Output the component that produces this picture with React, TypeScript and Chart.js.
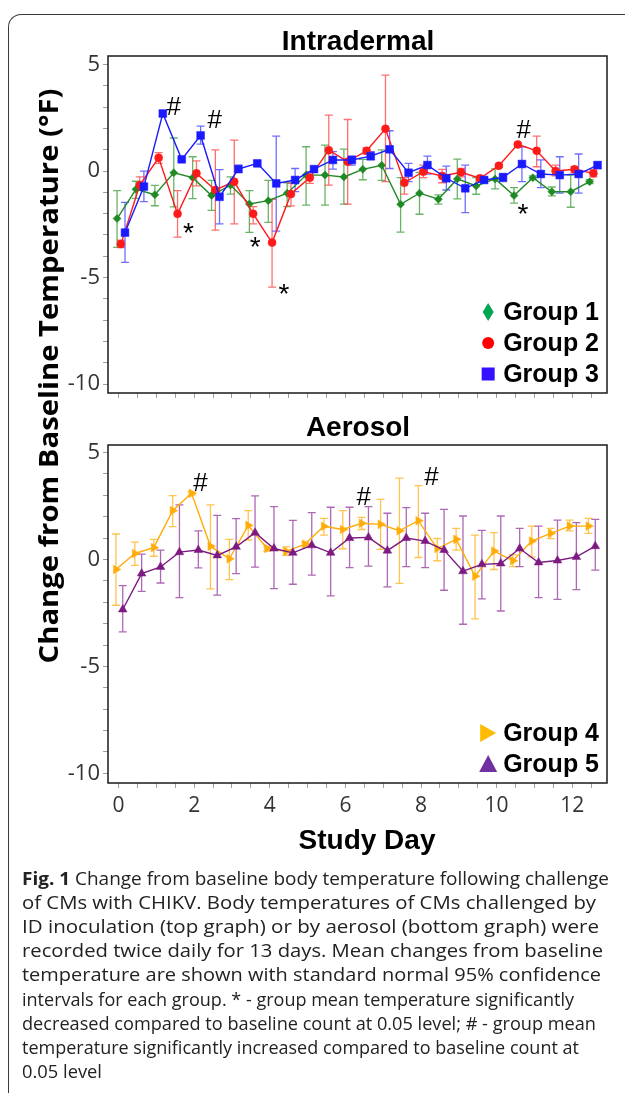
import React, { useEffect, useRef } from 'react';
import { Chart, registerables } from 'chart.js';

Chart.register(...registerables);

// ---------------- data ----------------
const studyDays = [0, 0.5, 1, 1.5, 2, 2.5, 3, 3.5, 4, 4.5, 5, 5.5, 6, 6.5, 7, 7.5, 8, 8.5, 9, 9.5, 10, 10.5, 11, 11.5, 12, 12.5];
const xLabelDays = [0, 2, 4, 6, 8, 10, 12];
const yTickValues = [-10, -9, -8, -7, -6, -5, -4, -3, -2, -1, 0, 1, 2, 3, 4, 5];
const yLabelValues = [-10, -5, 0, 5];

const group1Mean = [-2.23, -0.86, -1.11, -0.08, -0.31, -1.15, -0.66, -1.55, -1.39, -1.04, -0.19, -0.19, -0.28, 0.08, 0.27, -1.56, -1.04, -1.32, -0.37, -0.70, -0.37, -1.15, -0.31, -0.97, -0.97, -0.50];
const group1Upper = [-0.92, -0.48, -0.67, 1.55, 0.67, -0.44, -0.27, -0.92, -0.44, -0.55, 1.14, 1.22, 1.03, 0.55, 0.99, -0.31, -0.07, -1.12, 0.56, -0.31, 0.10, -0.78, -0.23, -0.75, -0.19, -0.41];
const group1Lower = [-3.58, -1.28, -1.63, -1.68, -1.30, -1.85, -1.08, -2.88, -2.41, -1.67, -1.60, -1.60, -1.55, -0.41, -0.44, -2.87, -2.03, -1.55, -1.31, -1.09, -0.84, -1.51, -0.39, -1.17, -1.70, -0.59];

const group2Mean = [-3.43, -0.66, 0.62, -2.01, -0.11, -0.89, -0.50, -2.01, -3.36, -1.08, -0.31, 0.98, 0.44, 0.95, 1.98, -0.55, -0.03, -0.23, -0.06, -0.34, 0.25, 1.25, 0.95, 0.00, 0.08, -0.11];
const group2Upper = [-3.25, -0.27, 0.86, -0.92, 0.48, 0.99, 1.45, -1.67, -1.33, -0.58, -0.03, 2.62, 2.42, 1.09, 4.50, -0.31, 0.28, 0.08, 0.12, -0.23, 0.33, 1.33, 1.64, 0.28, 0.20, 0.05];
const group2Lower = [-3.60, -0.90, 0.36, -3.10, -0.70, -2.77, -2.48, -2.48, -5.45, -1.64, -0.58, -0.66, -1.55, 0.80, -0.50, -1.08, -0.31, -0.55, -0.27, -0.47, 0.17, 1.14, 0.20, -0.23, -0.07, -0.27];

const group3Mean = [-2.89, -0.73, 2.70, 0.55, 1.67, -1.21, 0.09, 0.36, -0.58, -0.42, 0.09, 0.52, 0.52, 0.70, 1.02, -0.08, 0.28, -0.34, -0.81, -0.42, -0.30, 0.33, -0.14, -0.19, -0.14, 0.28];
const group3Upper = [-1.47, 0.00, 2.82, 0.62, 2.11, 0.07, 0.28, 0.47, 1.64, 0.12, 0.18, 0.91, 0.70, 0.91, 1.89, 0.36, 0.70, 0.23, 0.28, -0.34, -0.11, 1.14, 0.52, 0.67, 0.80, 0.42];
const group3Lower = [-4.29, -1.44, 2.58, 0.48, 1.26, -2.48, -0.03, 0.25, -2.82, -0.97, 0.00, 0.09, 0.28, 0.52, 0.12, -0.50, -0.14, -0.89, -1.95, -0.50, -0.50, -0.50, -0.78, -1.04, -1.04, 0.12];

const group4Mean = [-0.47, 0.28, 0.55, 2.28, 3.09, 0.62, 0.03, 1.59, 0.51, 0.38, 0.72, 1.55, 1.40, 1.69, 1.64, 1.34, 1.81, 0.51, 0.94, -0.78, 0.39, -0.06, 0.86, 1.22, 1.56, 1.56];
const group4Upper = [1.19, 0.81, 0.94, 2.98, 3.17, 2.55, 0.94, 2.28, 0.59, 0.59, 0.80, 1.92, 2.28, 1.97, 2.81, 3.80, 3.45, 0.98, 1.45, 1.14, 1.25, 0.23, 1.56, 1.45, 1.84, 1.92];
const group4Lower = [-2.14, -0.28, 0.15, 1.53, 3.01, -1.38, -0.94, 0.91, 0.39, 0.19, 0.64, 1.14, 0.50, 1.40, 0.47, -1.12, 0.09, -0.06, 0.44, -2.78, -0.47, -0.34, 0.12, 0.97, 1.34, 1.22];

const group5Mean = [-2.34, -0.66, -0.35, 0.34, 0.44, 0.19, 0.59, 1.25, 0.51, 0.31, 0.66, 0.31, 1.00, 1.03, 0.41, 1.00, 0.86, 0.44, -0.55, -0.23, -0.19, 0.51, -0.14, -0.05, 0.12, 0.62];
const group5Upper = [-1.22, 0.25, 0.44, 2.55, 1.34, 2.06, 1.91, 2.97, 2.47, 1.83, 2.19, 2.44, 2.44, 2.47, 2.16, 2.42, 2.16, 2.34, 2.03, 1.36, 2.03, 1.45, 1.56, 1.84, 1.72, 1.87];
const group5Lower = [-3.39, -1.49, -1.10, -1.78, -0.39, -1.67, -0.66, -0.36, -1.36, -1.16, -0.73, -1.70, -0.38, -0.31, -1.28, -0.34, -0.38, -1.44, -3.03, -1.84, -2.41, -0.34, -1.78, -1.87, -1.41, -0.50];

const groupLabels = ['Group 1', 'Group 2', 'Group 3', 'Group 4', 'Group 5'];

// significance marks: [group index within panel, point index, symbol]
const intradermalMarks: [number, number, string][] = [
  [2, 2, '#'], [2, 4, '#'], [1, 21, '#'],
  [1, 3, '*'], [1, 7, '*'], [1, 8, '*'], [0, 21, '*'],
];
const aerosolMarks: [number, number, string][] = [
  [0, 4, '#'], [0, 13, '#'], [0, 16, '#'],
];

const captionLines = [
  'Change from baseline body temperature following challenge',
  'of CMs with CHIKV. Body temperatures of CMs challenged by',
  'ID inoculation (top graph) or by aerosol (bottom graph) were',
  'recorded twice daily for 13 days. Mean changes from baseline',
  'temperature are shown with standard normal 95% confidence',
  'intervals for each group. * - group mean temperature significantly',
  'decreased compared to baseline count at 0.05 level; # - group mean',
  'temperature significantly increased compared to baseline count at',
  '0.05 level',
];

// ---------------- styles ----------------
type GStyle = {
  line: string; err: string; legend: string; pointStyle: any; radius: number;
  rotation: number; dodge: number; shape: string; order: number;
};
const S1: GStyle = { line: '#1f8a24', err: 'rgba(40,150,40,0.7)', legend: '#00a651', pointStyle: 'rectRot', radius: 4, rotation: 0, dodge: -0.04, shape: 'diamond', order: 2 };
const S2: GStyle = { line: '#ff1a1a', err: 'rgba(255,50,50,0.7)', legend: '#ff0000', pointStyle: 'circle', radius: 4, rotation: 0, dodge: 0.06, shape: 'circle', order: 1 };
const S3: GStyle = { line: '#1a1aff', err: 'rgba(50,50,255,0.7)', legend: '#3311ff', pointStyle: 'rect', radius: 5.5, rotation: 0, dodge: 0.17, shape: 'square', order: 0 };
const S4: GStyle = { line: '#ffad0a', err: 'rgba(255,175,20,0.75)', legend: '#ffbb00', pointStyle: 'triangle', radius: 5, rotation: 90, dodge: -0.07, shape: 'triRight', order: 1 };
const S5: GStyle = { line: '#7d1a82', err: 'rgba(140,40,150,0.7)', legend: '#7030a0', pointStyle: 'triangle', radius: 5, rotation: 0, dodge: 0.11, shape: 'triUp', order: 0 };

const intradermalMarkOffsets = [[11, -8], [14, -16], [6, -15], [11, 14], [2, 28], [12, 46], [9, 13]];
const aerosolMarkOffsets = [[9, -11], [2, -27], [13, -45]];

const X_MIN = -0.28;
const X_MAX = 12.92;
const W = 625;

type Series = { label: string; mean: number[]; upper: number[]; lower: number[]; style: GStyle };

function makeDataset(s: Series) {
  return {
    label: s.label,
    data: studyDays.map((d, i) => ({ x: d + s.style.dodge, y: s.mean[i] })),
    borderColor: s.style.line,
    backgroundColor: s.style.line,
    pointBackgroundColor: s.style.line,
    pointBorderColor: s.style.line,
    pointStyle: s.style.pointStyle,
    pointRadius: s.style.radius,
    pointRotation: s.style.rotation,
    pointBorderWidth: 0.5,
    borderWidth: 1.4,
    tension: 0,
    order: s.style.order,
    errUpper: s.upper,
    errLower: s.lower,
    errColor: s.style.err,
    legendColor: s.style.legend,
    legendShape: s.style.shape,
  } as any;
}

function drawShape(ctx: CanvasRenderingContext2D, shape: string, x: number, y: number) {
  ctx.beginPath();
  if (shape === 'diamond') {
    ctx.moveTo(x, y - 9); ctx.lineTo(x + 5.5, y); ctx.lineTo(x, y + 9); ctx.lineTo(x - 5.5, y);
  } else if (shape === 'circle') {
    ctx.arc(x, y, 6, 0, Math.PI * 2);
  } else if (shape === 'square') {
    ctx.rect(x - 6.5, y - 6.5, 13, 13);
  } else if (shape === 'triRight') {
    ctx.moveTo(x - 8, y - 9); ctx.lineTo(x + 8, y); ctx.lineTo(x - 8, y + 9);
  } else {
    ctx.moveTo(x, y - 9); ctx.lineTo(x + 9, y + 8); ctx.lineTo(x - 9, y + 8);
  }
  ctx.closePath();
  ctx.fill();
}

function buildChart(
  canvas: HTMLCanvasElement,
  series: Series[],
  yMin: number,
  yMax: number,
  padTop: number,
  xAxisHeight: number,
  showXLabels: boolean,
  marks: [number, number, string][],
  markOffsets: number[][],
) {
  const errorBars = {
    id: 'errorBars',
    beforeDatasetsDraw(chart: any) {
      const ctx = chart.ctx;
      const ys = chart.scales.y;
      ctx.save();
      chart.data.datasets.forEach((ds: any, di: number) => {
        const meta = chart.getDatasetMeta(di);
        ctx.strokeStyle = ds.errColor;
        ctx.lineWidth = 1.3;
        meta.data.forEach((pt: any, j: number) => {
          const x = pt.x;
          const yh = ys.getPixelForValue(ds.errUpper[j]);
          const yl = ys.getPixelForValue(ds.errLower[j]);
          ctx.beginPath();
          ctx.moveTo(x, yh); ctx.lineTo(x, yl);
          ctx.moveTo(x - 4, yh); ctx.lineTo(x + 4, yh);
          ctx.moveTo(x - 4, yl); ctx.lineTo(x + 4, yl);
          ctx.stroke();
        });
      });
      ctx.restore();
    },
  };
  const frame = {
    id: 'frame',
    afterDraw(chart: any) {
      const { ctx, chartArea: a } = chart;
      ctx.save();
      ctx.strokeStyle = '#1a1a1a';
      ctx.lineWidth = 1.5;
      ctx.strokeRect(a.left, a.top, a.right - a.left, a.bottom - a.top);
      ctx.restore();
    },
  };
  const legendBox = {
    id: 'legendBox',
    afterDraw(chart: any) {
      const { ctx, chartArea: a } = chart;
      const dss = chart.data.datasets;
      ctx.save();
      ctx.font = 'bold 25px "Liberation Sans", Arial, sans-serif';
      ctx.textAlign = 'right';
      ctx.textBaseline = 'middle';
      const n = dss.length;
      dss.forEach((ds: any, i: number) => {
        const y = a.bottom - 19 - (n - 1 - i) * 31;
        const right = a.right - 8;
        const w = ctx.measureText(ds.label).width;
        ctx.fillStyle = '#000';
        ctx.fillText(ds.label, right, y + 1);
        ctx.fillStyle = ds.legendColor;
        drawShape(ctx, ds.legendShape, right - w - 15, y);
      });
      ctx.restore();
    },
  };
  const sigMarks = {
    id: 'sigMarks',
    afterDatasetsDraw(chart: any) {
      const ctx = chart.ctx;
      ctx.save();
      ctx.fillStyle = '#000';
      ctx.textAlign = 'center';
      ctx.textBaseline = 'alphabetic';
      marks.forEach(([g, idx, sym], k) => {
        ctx.font = (sym === '*' ? '28px' : '26px') + ' "Liberation Sans", Arial, sans-serif';
        const pt = chart.getDatasetMeta(g).data[idx];
        const cx = pt.x + markOffsets[k][0];
        const cy = pt.y + markOffsets[k][1];
        const m = ctx.measureText(sym);
        const base = cy + (m.actualBoundingBoxAscent - m.actualBoundingBoxDescent) / 2;
        ctx.fillText(sym, cx, base);
      });
      ctx.restore();
    },
  };

  return new Chart(canvas, {
    type: 'line',
    data: { datasets: series.map(makeDataset) },
    options: {
      animation: false,
      responsive: false,
      maintainAspectRatio: false,
      layout: { padding: { left: 0, right: W - 607, top: padTop, bottom: 0 } },
      plugins: {
        legend: { display: false },
        tooltip: { enabled: false },
        title: { display: false },
      },
      scales: {
        x: {
          type: 'linear',
          min: X_MIN,
          max: X_MAX,
          afterBuildTicks: (s: any) => { s.ticks = studyDays.map((v) => ({ value: v })); },
          afterFit: (s: any) => { s.height = xAxisHeight; },
          grid: { drawOnChartArea: false, drawTicks: true, tickLength: 5, color: '#a0a0a0', lineWidth: 1 },
          border: { display: false },
          ticks: {
            autoSkip: false,
            maxRotation: 0,
            padding: 5,
            color: '#333',
            font: { family: '"Open Sans", sans-serif', size: 21 },
            callback: (v: any) => (showXLabels && xLabelDays.includes(Number(v)) ? String(v) : ''),
          },
        },
        y: {
          type: 'linear',
          min: yMin,
          max: yMax,
          afterBuildTicks: (s: any) => { s.ticks = yTickValues.map((v) => ({ value: v })); },
          afterFit: (s: any) => { s.width = 108; },
          grid: { drawOnChartArea: false, drawTicks: true, tickLength: 5, color: '#a0a0a0', lineWidth: 1 },
          border: { display: false },
          ticks: {
            autoSkip: false,
            padding: 3,
            color: '#333',
            font: { family: '"Open Sans", sans-serif', size: 22 },
            callback: (v: any) => (yLabelValues.includes(Number(v)) ? String(v) : ''),
          },
        },
      },
    } as any,
    plugins: [errorBars, sigMarks, frame, legendBox],
  });
}

const topSeries: Series[] = [
  { label: groupLabels[0], mean: group1Mean, upper: group1Upper, lower: group1Lower, style: S1 },
  { label: groupLabels[1], mean: group2Mean, upper: group2Upper, lower: group2Lower, style: S2 },
  { label: groupLabels[2], mean: group3Mean, upper: group3Upper, lower: group3Lower, style: S3 },
];
const bottomSeries: Series[] = [
  { label: groupLabels[3], mean: group4Mean, upper: group4Upper, lower: group4Lower, style: S4 },
  { label: groupLabels[4], mean: group5Mean, upper: group5Upper, lower: group5Lower, style: S5 },
];

const TOP_H = 420;
const BOT_TOP = 420;
const BOT_H = 440;

const captionEnds = [609, 596, 599, 603, 601, 574, 596, 579, 102];

export default function App() {
  const topRef = useRef<HTMLCanvasElement>(null);
  const botRef = useRef<HTMLCanvasElement>(null);

  useEffect(() => {
    const c1 = buildChart(topRef.current!, topSeries, -10.42, 5.4, 56, TOP_H - 393, false, intradermalMarks, intradermalMarkOffsets);
    const c2 = buildChart(botRef.current!, bottomSeries, -10.45, 5.35, 445 - BOT_TOP, BOT_H - (783 - BOT_TOP), true, aerosolMarks, aerosolMarkOffsets);
    return () => { c1.destroy(); c2.destroy(); };
  }, []);

  const titleFont = '"Liberation Sans", Arial, sans-serif';
  const capFont = '"Open Sans", sans-serif';

  return (
    <div style={{ position: 'absolute', left: 0, top: 0, width: W, height: 1109, overflow: 'hidden', background: '#fff' }}>
      <div style={{ position: 'absolute', left: 8, top: 14, width: 700, height: 1078, borderTop: '1.5px solid #3a3a3a', borderLeft: '1.5px solid #3a3a3a', borderTopLeftRadius: 13 }} />
      <canvas ref={topRef} width={W} height={TOP_H} style={{ position: 'absolute', left: 0, top: 0, width: W, height: TOP_H }} />
      <canvas ref={botRef} width={W} height={BOT_H} style={{ position: 'absolute', left: 0, top: BOT_TOP, width: W, height: BOT_H }} />
      <svg width={W} height={1109} style={{ position: 'absolute', left: 0, top: 0, pointerEvents: 'none' }}>
        <text x={358} y={50} textAnchor="middle" fontFamily={titleFont} fontWeight={700} fontSize={28} fill="#000">Intradermal</text>
        <text x={358} y={436} textAnchor="middle" fontFamily={titleFont} fontWeight={700} fontSize={28} fill="#000">Aerosol</text>
        <text x={367} y={849} textAnchor="middle" fontFamily={titleFont} fontWeight={700} fontSize={28} fill="#000">Study Day</text>
        <text transform="translate(47,376) rotate(-90)" x={0} y={0} textAnchor="middle" dominantBaseline="central" fontFamily={capFont} fontWeight={700} fontSize={27} fill="#000" textLength={575} lengthAdjust="spacingAndGlyphs">Change from Baseline Temperature (°F)</text>
        {captionLines.map((line, i) => (
          <text key={i} x={22} y={885 + i * 24.1} fontFamily={capFont} fontSize={17.5} fill="#222" textLength={captionEnds[i] - 22} lengthAdjust="spacingAndGlyphs">
            {i === 0 ? <tspan fontWeight={700}>Fig. 1 </tspan> : null}
            {line}
          </text>
        ))}
      </svg>
    </div>
  );
}
